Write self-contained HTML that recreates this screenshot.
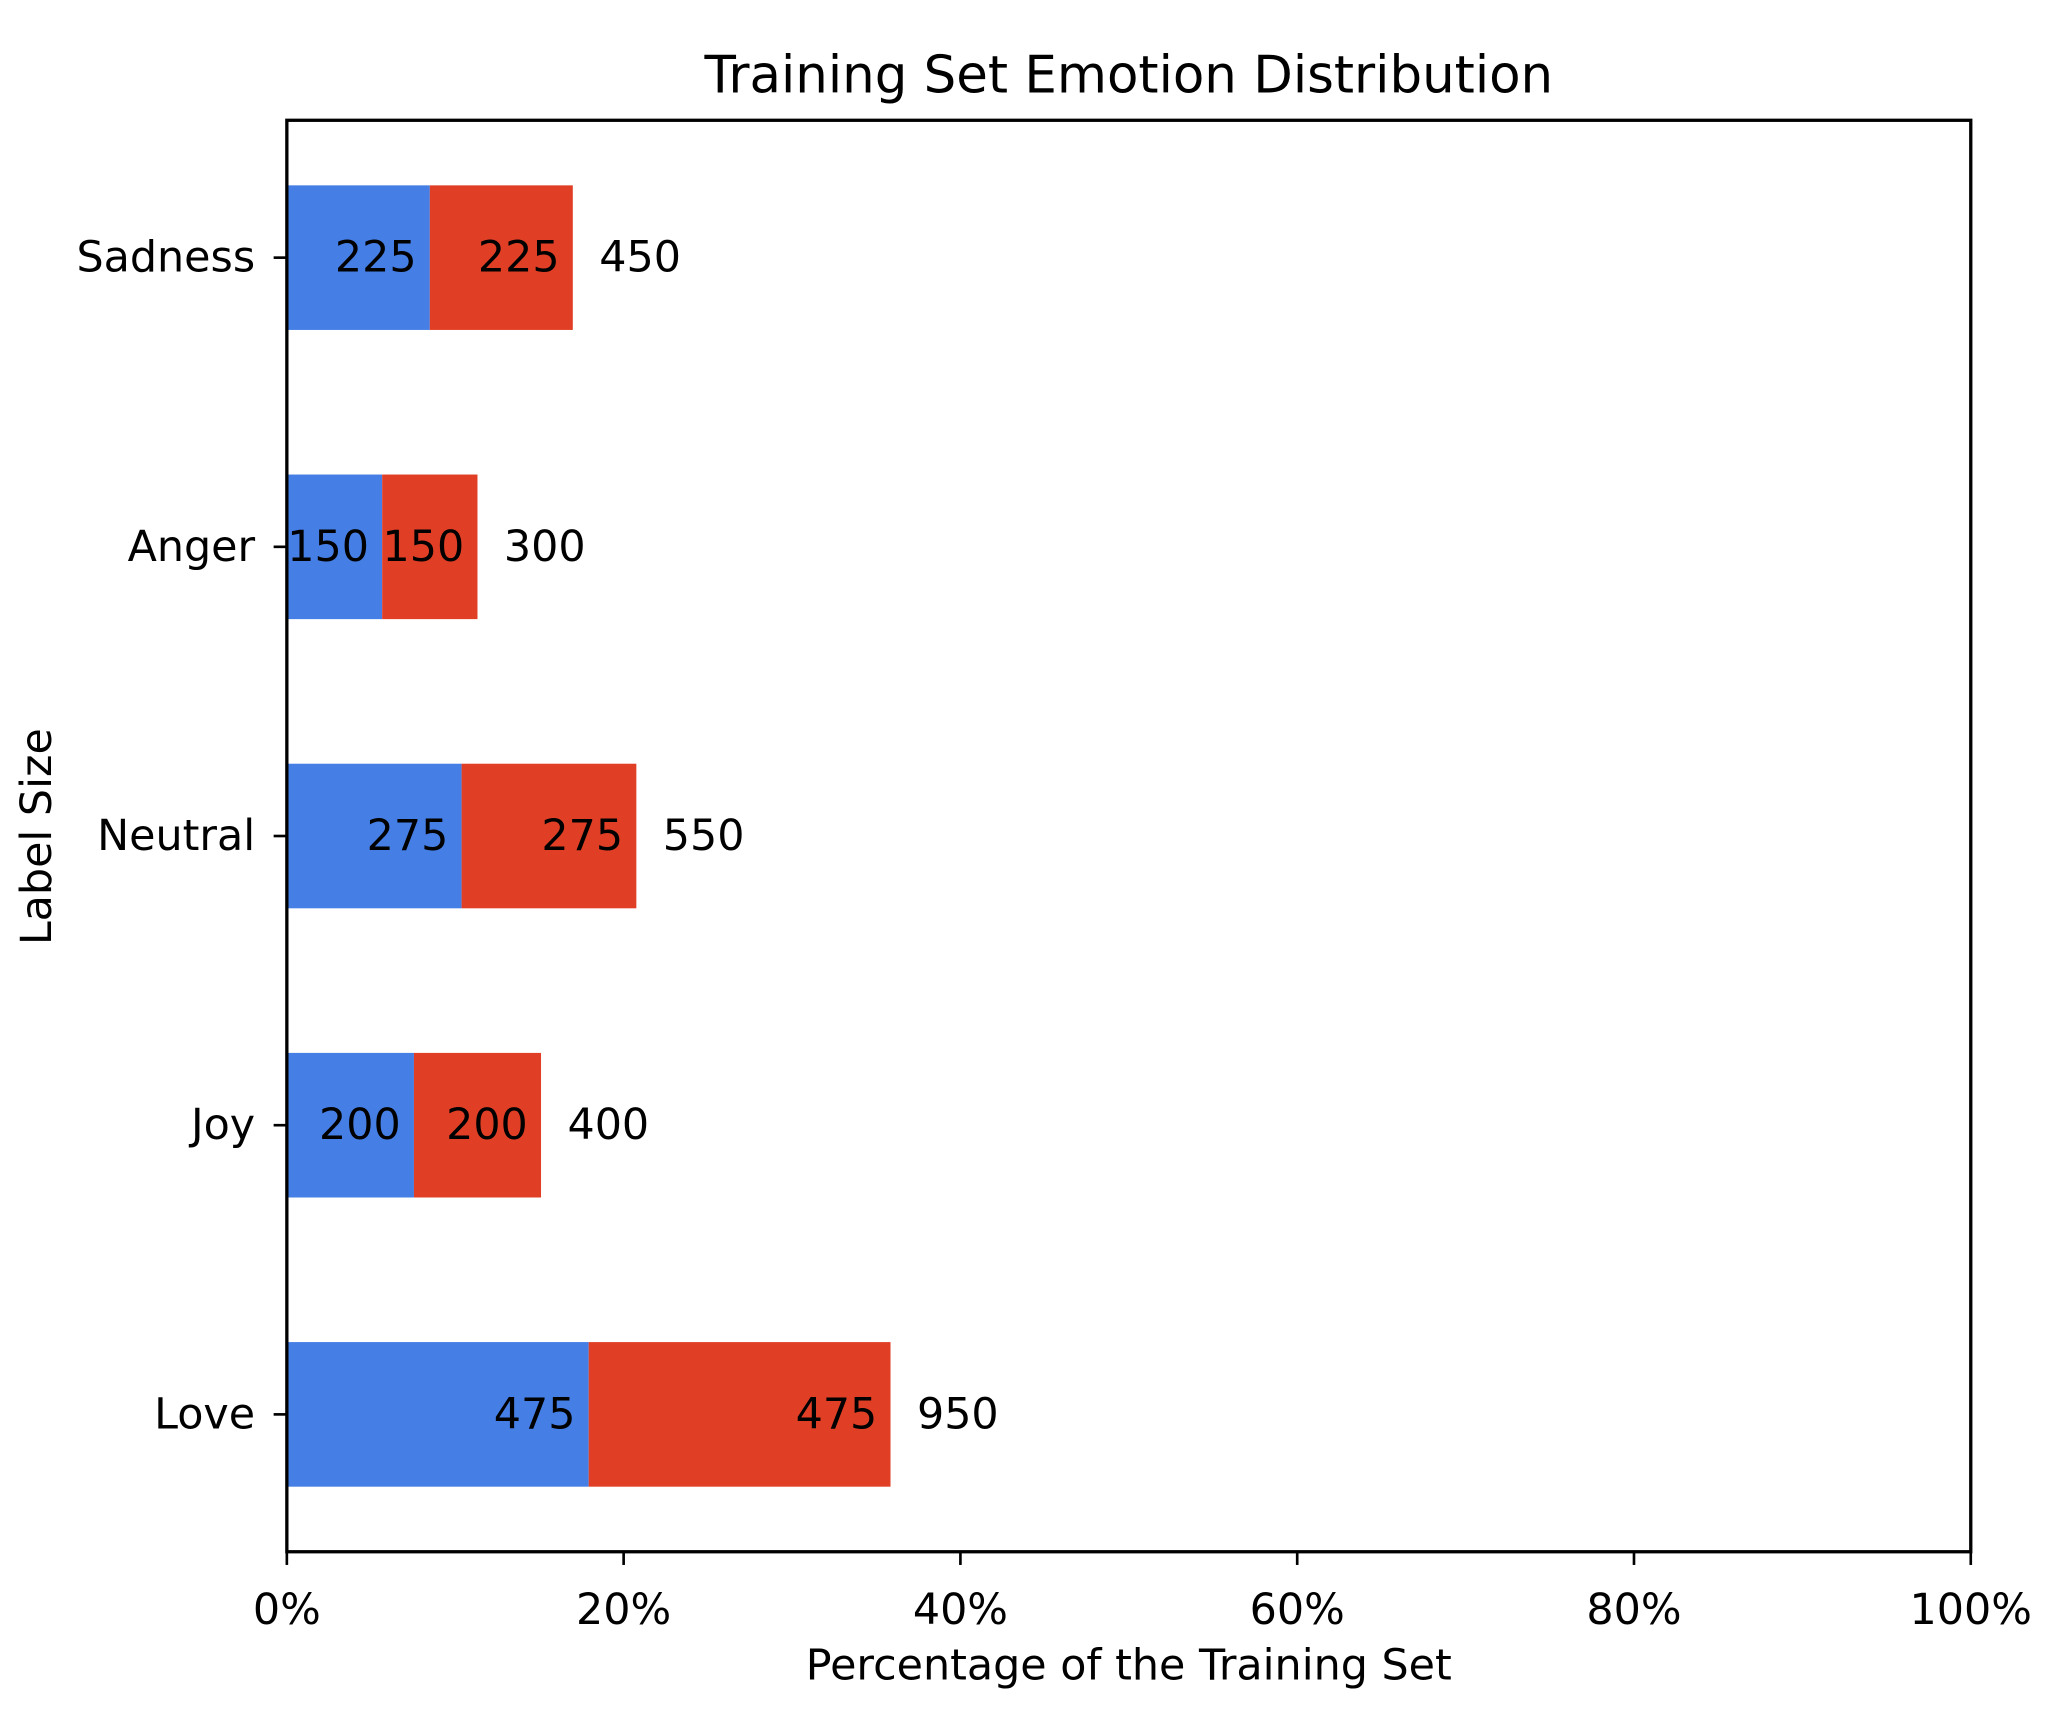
<!DOCTYPE html>
<html><head><meta charset="utf-8"><style>
html,body{margin:0;padding:0;background:#fff;}
svg{display:block;font-family:"DejaVu Sans","Liberation Sans",sans-serif;}
</style></head><body>
<svg id="chart" width="2062" height="1713" viewBox="0 0 1560 1296" xmlns="http://www.w3.org/2000/svg">
<rect width="1560" height="1296" fill="#fff"/>
<text x="854" y="57" font-size="38.9" text-anchor="middle" dominant-baseline="central">Training Set Emotion Distribution</text>
<g id="plot"></g>
<text x="854" y="1260" font-size="32.4" text-anchor="middle" dominant-baseline="central">Percentage of the Training Set</text>
<text transform="translate(28,633) rotate(-90)" font-size="32.4" text-anchor="middle" dominant-baseline="central">Label Size</text>
</svg>
<script>
const categories = ["Sadness","Anger","Neutral","Joy","Love"];
const firstHalf = [225,150,275,200,475];
const secondHalf = [225,150,275,200,475];
const totals = [450,300,550,400,950];
const xTicks = [0,20,40,60,80,100];
const xTickLabels = ["0%","20%","40%","60%","80%","100%"];

const L=217,R=1491,T=91,B=1174;
const grandTotal = totals.reduce((a,b)=>a+b,0);
const n=categories.length;
const yMin=-0.475, yMax=(n-1)+0.475;
function xs(p){return L+(R-L)*p/100;}
function ys(i){return T+(B-T)*(i-yMin)/(yMax-yMin);}
const bandH=(B-T)/(yMax-yMin);
const barH=bandH*0.5;
const NS="http://www.w3.org/2000/svg";
const g=document.getElementById('plot');
function mk(tag,attrs,txt){const e=document.createElementNS(NS,tag);for(const k in attrs)e.setAttribute(k,attrs[k]);if(txt!==undefined)e.textContent=txt;g.appendChild(e);return e;}

categories.forEach((c,i)=>{
  const cy=ys(i);
  const p1=firstHalf[i]/grandTotal*100, p2=secondHalf[i]/grandTotal*100;
  const x0=xs(0), x1=xs(p1), x2=xs(p1+p2);
  const b1=mk('rect',{x:x0,y:cy-barH/2,width:x1-x0,height:barH,fill:'#457ee5'});
  
  
  const b2=mk('rect',{x:x1,y:cy-barH/2,width:x2-x1,height:barH,fill:'#e03f26'});
  
  
  const t1=mk('text',{x:x1-10,y:cy,'font-size':32.4,'text-anchor':'end','dominant-baseline':'central'},String(firstHalf[i]));
  
  
  const t2=mk('text',{x:x2-10,y:cy,'font-size':32.4,'text-anchor':'end','dominant-baseline':'central'},String(secondHalf[i]));
  
  
  const t3=mk('text',{x:x2+20,y:cy,'font-size':32.4,'text-anchor':'start','dominant-baseline':'central'},String(totals[i]));
  
  
  const tk=mk('line',{x1:L-10,x2:L,y1:cy,y2:cy,stroke:'#000','stroke-width':2});
  
  
  const tl=mk('text',{x:L-24,y:cy,'font-size':32.4,'text-anchor':'end','dominant-baseline':'central'},c);
  
  
});
xTicks.forEach((v,i)=>{
  const x=xs(v);
  const tk=mk('line',{x1:x,x2:x,y1:B,y2:B+10,stroke:'#000','stroke-width':2});
  
  
  const tl=mk('text',{x:x,y:1218,'font-size':32.4,'text-anchor':'middle','dominant-baseline':'central'},xTickLabels[i]);
  
  
});
const frame=mk('rect',{x:L,y:T,width:R-L,height:B-T,fill:'none',stroke:'#000','stroke-width':2.5});


</script>
</body></html>
